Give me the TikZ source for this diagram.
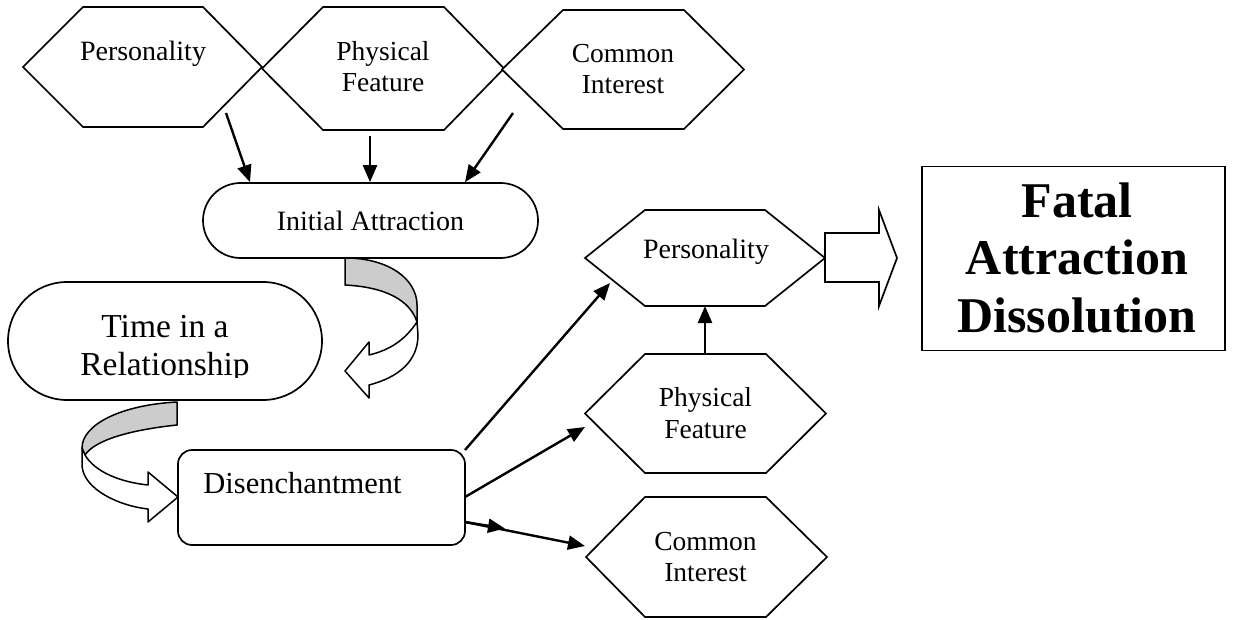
\documentclass[tikz,border=0pt]{standalone}
\usepackage{fontspec}
\setmainfont{Liberation Serif}
\usetikzlibrary{arrows.meta}
\tikzset{
  shp/.style={draw=black, line width=1.7pt, fill=white, line join=miter},
  twist/.style={draw=black, line width=1.5pt, line join=round},
  arr/.style={line width=2.4pt, -{Triangle[length=17pt,width=14pt]}},
  lbl/.style={align=center, inner sep=0pt, font=\fontsize{28}{31}\selectfont},
  lbltwo/.style={align=center, inner sep=0pt, font=\fontsize{27.5}{31.5}\selectfont},
}
\begin{document}
\begin{tikzpicture}[x=1pt,y=-1pt]
\useasboundingbox (0,0) rectangle (1238,620);

% ---- top hexagons
\draw[shp] (23,67) -- (83,7) -- (203,7) -- (262,67) -- (203,127) -- (83,127) -- cycle;
\draw[shp] (262,68.5) -- (323,7) -- (444,7) -- (504,68.5) -- (444,130) -- (323,130) -- cycle;
\draw[shp] (502,69.5) -- (563,10) -- (684,10) -- (744,69.5) -- (684,129) -- (563,129) -- cycle;
\node[lbl] (p1) at (143,54) {Personality};
\node[lbltwo] (f1) at (383,66.5) {Physical\\Feature};
\node[lbltwo] (c1) at (623,69) {Common\\Interest};

% ---- Initial Attraction
\node[shp, rounded corners=37.5pt, minimum width=335pt, minimum height=75pt, inner sep=0pt,
      lbl] (ia) at (370.5,220.5) {Initial Attraction};

% arrows into Initial Attraction
\coordinate (s1) at (226,113);
\coordinate (s2) at (370,136);
\coordinate (s3) at (513,113);
\draw[arr] (s1) -- ([xshift=-120.5pt]ia.north);
\draw[arr] (s2) -- ([xshift=-0.5pt]ia.north);
\draw[arr] (s3) -- ([xshift=94.5pt]ia.north);

% ---- Time in a Relationship
\node[shp, rounded corners=59pt, minimum width=314pt, minimum height=118pt] (tbox) at (165,341) {};
\begin{scope}
  \clip (8,282) rectangle (322,377);
  \node[align=center, inner sep=0pt, font=\fontsize{33.5}{38}\selectfont] (tr) at (165,349) {Time in a\\Relationship};
\end{scope}

% ---- curved arrow: Initial Attraction -> Time
\draw[twist, fill=gray!40] (345,258) .. controls (390,258) and (417,280) .. (417,305) -- (417,322)
   .. controls (410,300) and (385,287) .. (345,285) -- cycle;
\draw[twist, fill=white] (417,322) .. controls (405,340) and (390,350) .. (369,355)
   -- (369,342) -- (345,371) -- (369,398) -- (369,385)
   .. controls (400,377) and (418,360) .. (418,335) -- cycle;

% ---- Disenchantment
\node[shp, rounded corners=14pt, minimum width=287pt, minimum height=95pt] (dbox) at (321.5,497.5) {};
\node[inner sep=0pt, font=\fontsize{30.5}{34}\selectfont] (dt) at (302.5,483) {Disenchantment};

% ---- curved arrow: Time -> Disenchantment
\draw[twist, fill=gray!40] (177,402) -- (177,425)
   .. controls (130,430) and (95,440) .. (85,455) -- (82,448)
   .. controls (82,425) and (120,405) .. (177,402) -- cycle;
\draw[twist, fill=white] (82,448) -- (82,466) .. controls (84,490) and (120,506) .. (148,509)
   -- (148,522) -- (178,497) -- (148,472) -- (148,485)
   .. controls (120,482) and (95,472) .. (85,455) -- cycle;

% ---- right hexagons
\draw[shp] (585,258) -- (645,210) -- (765,210) -- (825,258) -- (765,306) -- (645,306) -- cycle;
\draw[shp] (585,413.5) -- (645,354) -- (766,354) -- (826,413.5) -- (766,473) -- (645,473) -- cycle;
\draw[shp] (586,557) -- (645,497) -- (766,497) -- (827,557) -- (766,617) -- (645,617) -- cycle;
\node[lbl] (p2) at (706,251.5) {Personality};
\node[lbltwo] (f2) at (705.5,413) {Physical\\Feature};
\node[lbltwo] (c2) at (705.5,557) {Common\\Interest};

\coordinate (pBot) at (705,306);
\coordinate (fTop) at (705,354);
\draw[arr] (fTop) -- (pBot);

% arrows from Disenchantment
\coordinate (d1) at (465,450);
\coordinate (d2) at (465,497);
\coordinate (d3) at (465,522);
\coordinate (e1) at (610,283);
\coordinate (e2) at (585,427);
\coordinate (e3m) at (505,528.5);
\coordinate (e3) at (585,546);
\draw[arr] (d1) -- (e1);
\draw[arr] (d2) -- (e2);
\draw[arr] (d3) -- (e3m);
\draw[arr] (d3) -- (e3);

% ---- block arrow
\draw[shp] (825,233) -- (879,233) -- (879,210) -- (897,258) -- (879,306) -- (879,282) -- (825,282) -- cycle;

% ---- Fatal box
\node[shp, minimum width=303pt, minimum height=184pt] (fbox) at (1073.5,258.5) {};
\node[align=center, inner sep=0pt, font=\fontsize{50}{57.5}\selectfont\bfseries] (ft) at (1077,257.5)
   {Fatal\\Attraction\\Dissolution};
\end{tikzpicture}
\end{document}
